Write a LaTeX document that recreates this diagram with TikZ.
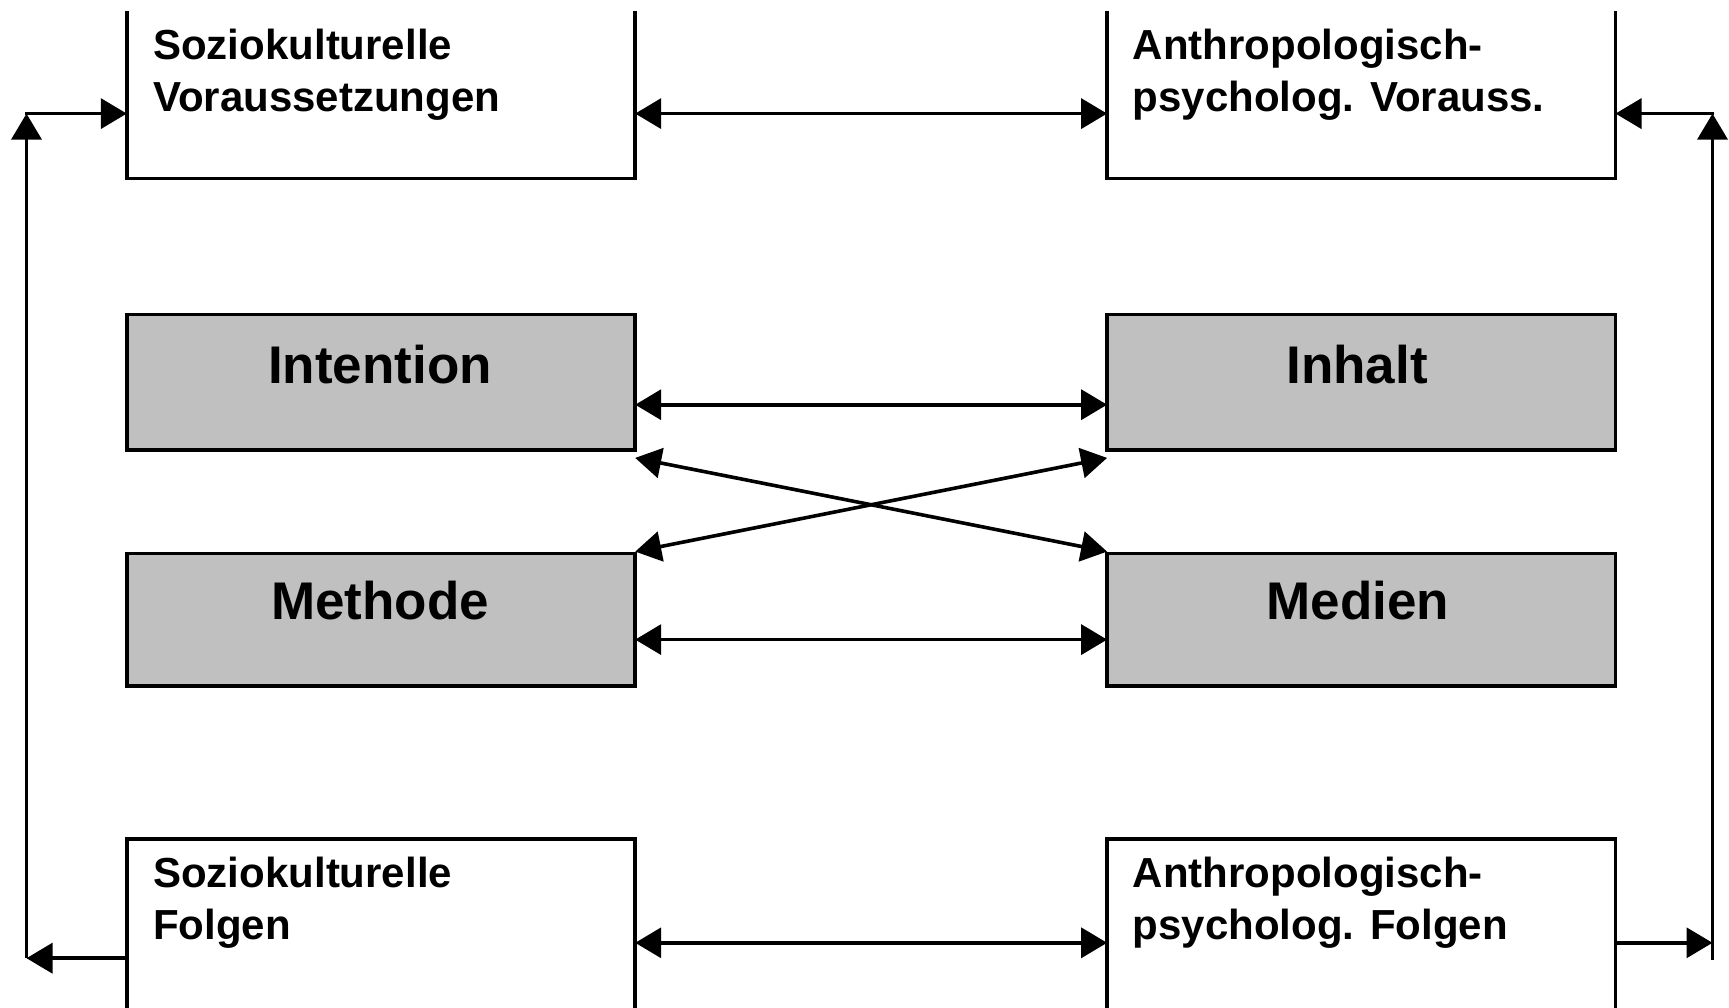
\documentclass[tikz,border=0pt]{standalone}
\usepackage{fontspec}
\setmainfont{Liberation Sans}
\usetikzlibrary{arrows.meta,calc}
\definecolor{boxgray}{HTML}{C0C0C0}
\begin{document}
\begin{tikzpicture}[x=1pt,y=-1pt,
  line width=3.6pt,
  box/.style={inner sep=0pt,outer sep=0pt,minimum width=508.4pt},
  graybox/.style={box,draw,fill=boxgray},
  smalltext/.style={font=\fontsize{42}{51.5}\selectfont\bfseries,inner sep=0pt,align=left,anchor=base west},
  bigtext/.style={font=\fontsize{53}{60}\selectfont\bfseries,inner sep=0pt,anchor=base},
  tip/.style={-{Triangle[length=26pt,width=30pt]}},
  dtip/.style={{Triangle[length=26pt,width=30pt]}-{Triangle[length=26pt,width=30pt]}},
]
\useasboundingbox (0,0) rectangle (1729,1008);

% boxes
\node[box,minimum height=167.6pt] (sv) at (381,94.8) {};
\node[box,minimum height=167.6pt] (ap) at (1361.3,94.8) {};
\node[graybox,minimum height=135.6pt] (int) at (381,382.1) {};
\node[graybox,minimum height=135.6pt] (inh) at (1361.3,382.1) {};
\node[graybox,minimum height=132.3pt] (met) at (381,619.75) {};
\node[graybox,minimum height=132.3pt] (med) at (1361.3,619.75) {};
\node[box,minimum height=170pt] (sf) at (381,924.2) {};
\node[box,minimum height=170pt] (af) at (1361.3,924.2) {};

\draw (sv.north west) -- (sv.south west) -- (sv.south east) -- (sv.north east);
\draw (ap.north west) -- (ap.south west) -- (ap.south east) -- (ap.north east);
\draw (sf.south west) -- (sf.north west) -- (sf.north east) -- (sf.south east);
\draw (af.south west) -- (af.north west) -- (af.north east) -- (af.south east);

% texts (base anchor = baseline of last line)
\node[smalltext] (svt) at (151.5,111.4) {Soziokulturelle\\Voraussetzungen};
\node[smalltext] (apt) at (1131,111.4) {Anthropologisch-\\psycholog. Vorauss.};
\node[smalltext] (sft) at (151.5,939) {Soziokulturelle\\Folgen};
\node[smalltext] (aft) at (1131,939) {Anthropologisch-\\psycholog. Folgen};
\node[bigtext] (intt) at (380,383.7) {Intention};
\node[bigtext] (inht) at (1357,383.7) {Inhalt};
\node[bigtext] (mett) at (380,619.7) {Methode};
\node[bigtext] (medt) at (1358,619.7) {Medien};

% helper coordinates
\coordinate (r1) at (0,113.6);
\coordinate (r2) at (0,404.7);
\coordinate (r3) at (0,639.6);
\coordinate (r4) at (0,942.8);
\coordinate (r5) at (0,958.2);
\coordinate (cl) at (26.5,113.6);
\coordinate (cr) at (1712.5,113.6);
\coordinate (clb) at (26.5,958.2);
\coordinate (crb) at (1712.5,958.2);
\coordinate (xa) at ($(int.south east)+(0,8)$);
\coordinate (xb) at ($(inh.south west)+(0,8)$);
\coordinate (xc) at ($(met.north east)+(0,-2)$);
\coordinate (xd) at ($(med.north west)+(0,-2)$);

% connectors
\draw[dtip] (sv.east |- r1) -- (ap.west |- r1);
\draw[dtip] (int.east |- r2) -- (inh.west |- r2);
\draw[dtip] (met.east |- r3) -- (med.west |- r3);
\draw[dtip] (sf.east |- r4) -- (af.west |- r4);
\draw[dtip] (xa) -- (xd);
\draw[dtip] (xc) -- (xb);

\draw[tip] (sf.west |- r5) -- (clb);
\draw[tip] (clb) -- (cl);
\draw[tip,line cap=rect] (cl) -- (sv.west |- r1);

\draw[tip] (af.east |- r4) -- (crb |- r4);
\draw[tip,line cap=rect] (crb) -- (cr);
\draw[tip,line cap=rect] (cr) -- (ap.east |- r1);
\end{tikzpicture}
\end{document}
